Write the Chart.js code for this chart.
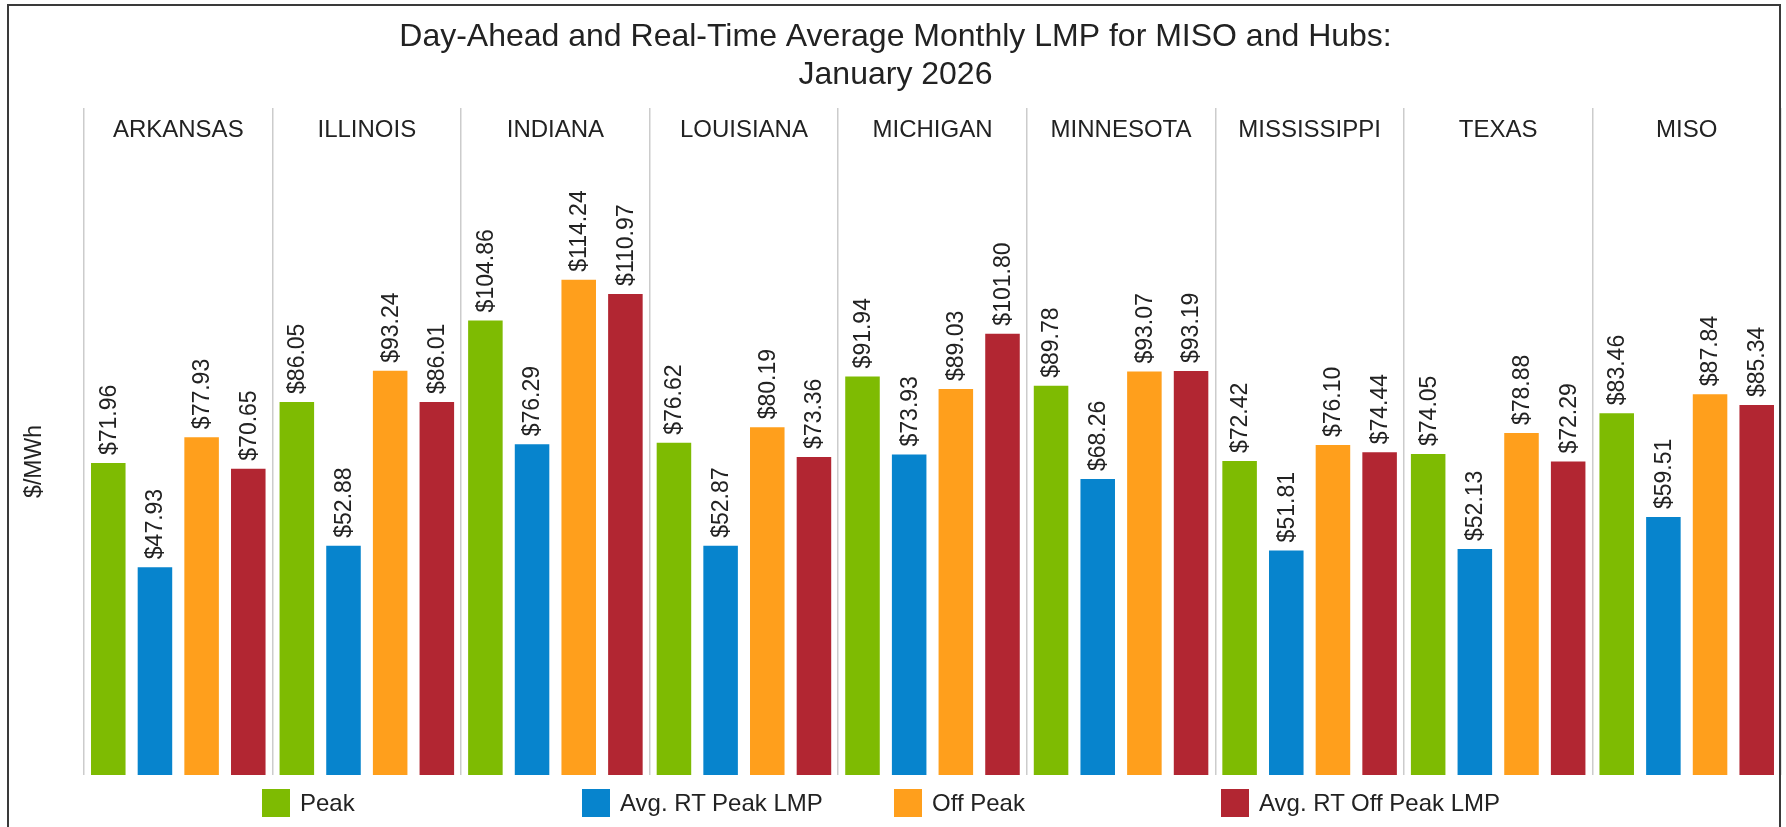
<!DOCTYPE html>
<html>
<head>
<meta charset="utf-8">
<title>Day-Ahead and Real-Time Average Monthly LMP</title>
<script src="https://cdn.jsdelivr.net/npm/chart.js@4/dist/chart.umd.min.js"></script>
<style>
    html, body { margin: 0; padding: 0; background: #fff; }
    #wrap { position: relative; width: 1786px; height: 827px; overflow: hidden; }
    #frame {
        position: absolute; left: 7px; top: 4px; width: 1774px; height: 840px;
        border: 2px solid #3a3a3a; box-sizing: border-box; pointer-events: none;
    }
    #lmpChart { position: absolute; left: 0; top: 0; }
    .legend-item {
        position: absolute; top: 789px; height: 28px; display: flex; align-items: center;
        font-family: 'Liberation Sans', Arial, sans-serif; font-size: 24px; color: #222;
        white-space: nowrap;
    }
    .legend-item span.box { display: inline-block; width: 28px; height: 28px; margin-right: 10px; }
</style>
</head>
<body>
<div id="wrap">
    <canvas id="lmpChart" width="1786" height="827"></canvas>
    <div id="frame"></div>
    <div id="legend"></div>
</div>
<script>
// Regiones / hubs
const hubs = ['ARKANSAS', 'ILLINOIS', 'INDIANA', 'LOUISIANA', 'MICHIGAN', 'MINNESOTA', 'MISSISSIPPI', 'TEXAS', 'MISO'];

// $/MWh por serie
const peak = [71.96, 86.05, 104.86, 76.62, 91.94, 89.78, 72.42, 74.05, 83.46];
const rtPeak = [47.93, 52.88, 76.29, 52.87, 73.93, 68.26, 51.81, 52.13, 59.51];
const offPeak = [77.93, 93.24, 114.24, 80.19, 89.03, 93.07, 76.10, 78.88, 87.84];
const rtOffPeak = [70.65, 86.01, 110.97, 73.36, 101.80, 93.19, 74.44, 72.29, 85.34];

const seriesNames = ['Peak', 'Avg. RT Peak LMP', 'Off Peak', 'Avg. RT Off Peak LMP'];
const seriesColors = ['#7ebb02', '#0784cd', '#ff9f1c', '#b22632'];

const FONT = "'Liberation Sans', Arial, sans-serif";

// Etiquetas de valor giradas encima de cada barra
const valueLabels = {
    id: 'valueLabels',
    afterDatasetsDraw(chart) {
        const ctx = chart.ctx;
        ctx.save();
        ctx.font = '23px ' + FONT;
        ctx.fillStyle = '#222';
        ctx.textAlign = 'left';
        ctx.textBaseline = 'middle';
        chart.data.datasets.forEach((ds, di) => {
            chart.getDatasetMeta(di).data.forEach((bar, i) => {
                ctx.save();
                ctx.translate(bar.x, bar.y - 8);
                ctx.rotate(-Math.PI / 2);
                ctx.fillText('$' + ds.data[i].toFixed(2), 0, 1);
                ctx.restore();
            });
        });
        ctx.restore();
    }
};

const datasets = [peak, rtPeak, offPeak, rtOffPeak].map((values, i) => ({
    label: seriesNames[i],
    data: values,
    backgroundColor: seriesColors[i],
    borderWidth: 0,
    categoryPercentage: 0.99,
    barPercentage: 0.74
}));

new Chart(document.getElementById('lmpChart'), {
    type: 'bar',
    data: { labels: hubs, datasets: datasets },
    options: {
        responsive: false,
        animation: false,
        events: [],
        layout: { padding: { top: 0, left: 10, right: 5, bottom: 52 } },
        plugins: {
            legend: { display: false },
            tooltip: { enabled: false },
            title: {
                display: true,
                text: ['Day-Ahead and Real-Time Average Monthly LMP for MISO and Hubs:', 'January 2026'],
                color: '#222',
                font: { family: FONT, size: 32, weight: 'normal', lineHeight: 1.18 },
                padding: { top: 18.6, bottom: 13.9 }
            }
        },
        scales: {
            x: {
                position: 'top',
                border: { display: false },
                grid: {
                    display: true,
                    offset: true,
                    color: '#cccccc',
                    lineWidth: 1.5,
                    drawTicks: true,
                    tickLength: 8,
                    tickColor: '#cccccc'
                },
                ticks: {
                    color: '#222',
                    font: { family: FONT, size: 24, lineHeight: 1.2 },
                    mirror: true,
                    padding: 0,
                    maxRotation: 0,
                    autoSkip: false
                }
            },
            y: {
                min: 0,
                max: 152,
                border: { display: false },
                grid: { display: false, drawTicks: false },
                ticks: { display: false },
                title: {
                    display: true,
                    // espacios finos al final para bajar un poco el texto
                    text: '$/MWh' + '\u00a0'.repeat(5),
                    color: '#222',
                    font: { family: FONT, size: 23, lineHeight: 1.2 },
                    padding: { top: 11.2, bottom: 35.2 }
                }
            }
        }
    },
    plugins: [valueLabels]
});

// Leyenda en columnas
const legendLeft = [262, 582, 894, 1221];
const legend = document.getElementById('legend');
seriesNames.forEach((name, i) => {
    const item = document.createElement('div');
    item.className = 'legend-item';
    item.style.left = legendLeft[i] + 'px';
    item.innerHTML = '<span class="box" style="background:' + seriesColors[i] + '"></span>' + name;
    legend.appendChild(item);
});
</script>
</body>
</html>
